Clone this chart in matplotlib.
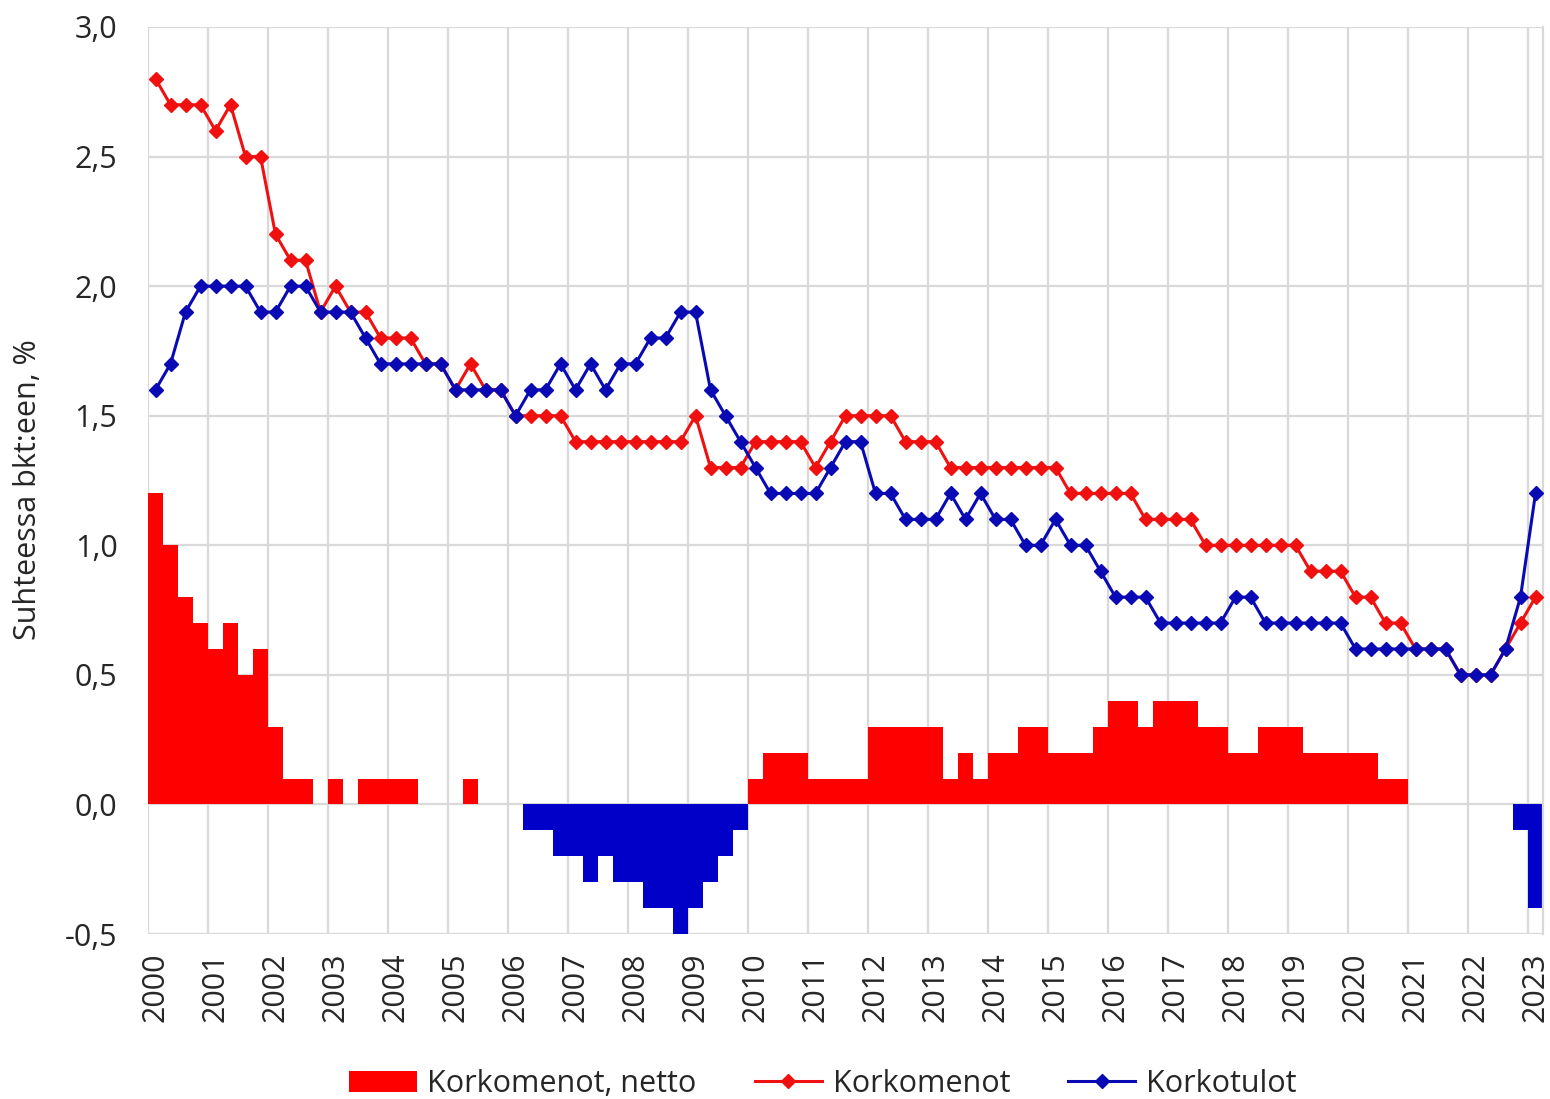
import matplotlib
matplotlib.use("Agg")
import matplotlib.pyplot as plt
import numpy as np

plt.rcParams['font.family'] = ['Open Sans', 'DejaVu Sans']

years = [str(y) for y in range(2000, 2024)]

# Quarterly values 2000Q1 .. 2023Q1 (93 quarters), % of GDP
korkomenot = [
    2.8, 2.7, 2.7, 2.7,  2.6, 2.7, 2.5, 2.5,  2.2, 2.1, 2.1, 1.9,  2.0, 1.9, 1.9, 1.8,
    1.8, 1.8, 1.7, 1.7,  1.6, 1.7, 1.6, 1.6,  1.5, 1.5, 1.5, 1.5,  1.4, 1.4, 1.4, 1.4,
    1.4, 1.4, 1.4, 1.4,  1.5, 1.3, 1.3, 1.3,  1.4, 1.4, 1.4, 1.4,  1.3, 1.4, 1.5, 1.5,
    1.5, 1.5, 1.4, 1.4,  1.4, 1.3, 1.3, 1.3,  1.3, 1.3, 1.3, 1.3,  1.3, 1.2, 1.2, 1.2,
    1.2, 1.2, 1.1, 1.1,  1.1, 1.1, 1.0, 1.0,  1.0, 1.0, 1.0, 1.0,  1.0, 0.9, 0.9, 0.9,
    0.8, 0.8, 0.7, 0.7,  0.6, 0.6, 0.6, 0.5,  0.5, 0.5, 0.6, 0.7,  0.8,
]
korkotulot = [
    1.6, 1.7, 1.9, 2.0,  2.0, 2.0, 2.0, 1.9,  1.9, 2.0, 2.0, 1.9,  1.9, 1.9, 1.8, 1.7,
    1.7, 1.7, 1.7, 1.7,  1.6, 1.6, 1.6, 1.6,  1.5, 1.6, 1.6, 1.7,  1.6, 1.7, 1.6, 1.7,
    1.7, 1.8, 1.8, 1.9,  1.9, 1.6, 1.5, 1.4,  1.3, 1.2, 1.2, 1.2,  1.2, 1.3, 1.4, 1.4,
    1.2, 1.2, 1.1, 1.1,  1.1, 1.2, 1.1, 1.2,  1.1, 1.1, 1.0, 1.0,  1.1, 1.0, 1.0, 0.9,
    0.8, 0.8, 0.8, 0.7,  0.7, 0.7, 0.7, 0.7,  0.8, 0.8, 0.7, 0.7,  0.7, 0.7, 0.7, 0.7,
    0.6, 0.6, 0.6, 0.6,  0.6, 0.6, 0.6, 0.5,  0.5, 0.5, 0.6, 0.8,  1.2,
]
netto = [
    1.2, 1.0, 0.8, 0.7,  0.6, 0.7, 0.5, 0.6,  0.3, 0.1, 0.1, 0.0,  0.1, 0.0, 0.1, 0.1,
    0.1, 0.1, 0.0, 0.0,  0.0, 0.1, 0.0, 0.0,  0.0, -0.1, -0.1, -0.2,  -0.2, -0.3, -0.2, -0.3,
    -0.3, -0.4, -0.4, -0.5,  -0.4, -0.3, -0.2, -0.1,  0.1, 0.2, 0.2, 0.2,  0.1, 0.1, 0.1, 0.1,
    0.3, 0.3, 0.3, 0.3,  0.3, 0.1, 0.2, 0.1,  0.2, 0.2, 0.3, 0.3,  0.2, 0.2, 0.2, 0.3,
    0.4, 0.4, 0.3, 0.4,  0.4, 0.4, 0.3, 0.3,  0.2, 0.2, 0.3, 0.3,  0.3, 0.2, 0.2, 0.2,
    0.2, 0.2, 0.1, 0.1,  0.0, 0.0, 0.0, 0.0,  0.0, 0.0, 0.0, -0.1,  -0.4,
]
yticks = [-0.5, 0.0, 0.5, 1.0, 1.5, 2.0, 2.5, 3.0]

RED = '#FF0000'
RED_LINE = '#F01010'
BLUE_BAR = '#0000C8'
BLUE_LINE = '#0A0AB4'
GRID = '#D9D9D9'
TXT = '#262626'
FS = 22

fig = plt.figure(figsize=(15.5, 10.99), dpi=100)
ax = fig.add_axes([148/1550, 1-934/1099, (1543-148)/1550, (934-27)/1099])

x = np.arange(len(netto))
colors = [RED if v >= 0 else BLUE_BAR for v in netto]
bars = ax.bar(x, netto, width=1.0, color=colors, linewidth=0, zorder=2,
              label='Korkomenot, netto')
l1, = ax.plot(x, korkomenot, color=RED_LINE, lw=2.2, marker='D', ms=7.5,
              mec=RED_LINE, mfc=RED_LINE, zorder=3, label='Korkomenot')
l2, = ax.plot(x, korkotulot, color=BLUE_LINE, lw=2.2, marker='D', ms=7.5,
              mec=BLUE_LINE, mfc=BLUE_LINE, zorder=4, label='Korkotulot')

ax.set_xlim(-0.5, len(netto) - 0.5)
ax.set_ylim(-0.5, 3.0)

ax.set_xticks(np.arange(0, len(netto), 4))
ax.set_xticklabels(years, rotation=90, fontsize=FS, color=TXT)
ax.set_xticks(np.arange(0, len(netto) + 1, 4) - 0.5, minor=True)
ax.set_yticks(yticks)
ax.set_yticklabels([f"{v:.1f}".replace('.', ',') for v in yticks],
                   fontsize=FS, color=TXT)

ax.tick_params(axis='x', which='both', length=0, pad=13)
ax.tick_params(axis='y', which='both', length=0, pad=22)
ax.grid(False)
ax.xaxis.grid(True, which='minor', color=GRID, lw=1.6, zorder=0)
ax.yaxis.grid(True, which='major', color=GRID, lw=1.6, zorder=0)
ax.set_axisbelow(True)
for side in ['top', 'left', 'bottom']:
    ax.spines[side].set_visible(False)
ax.spines['right'].set_color(GRID)
ax.spines['right'].set_linewidth(1.6)

ax.set_ylabel('Suhteessa bkt:een, %', fontsize=FS, color=TXT)
ax.yaxis.set_label_coords(-0.075, 0.49)

fig.legend([bars, l1, l2], ['Korkomenot, netto', 'Korkomenot', 'Korkotulot'],
           loc='center', bbox_to_anchor=(823/1550, 1-1084/1099),
           ncol=3, frameon=False, fontsize=FS, handlelength=2.2,
           handletextpad=0.35, columnspacing=1.9, labelcolor=TXT)

fig.savefig('out.png', dpi=100, facecolor='white')
